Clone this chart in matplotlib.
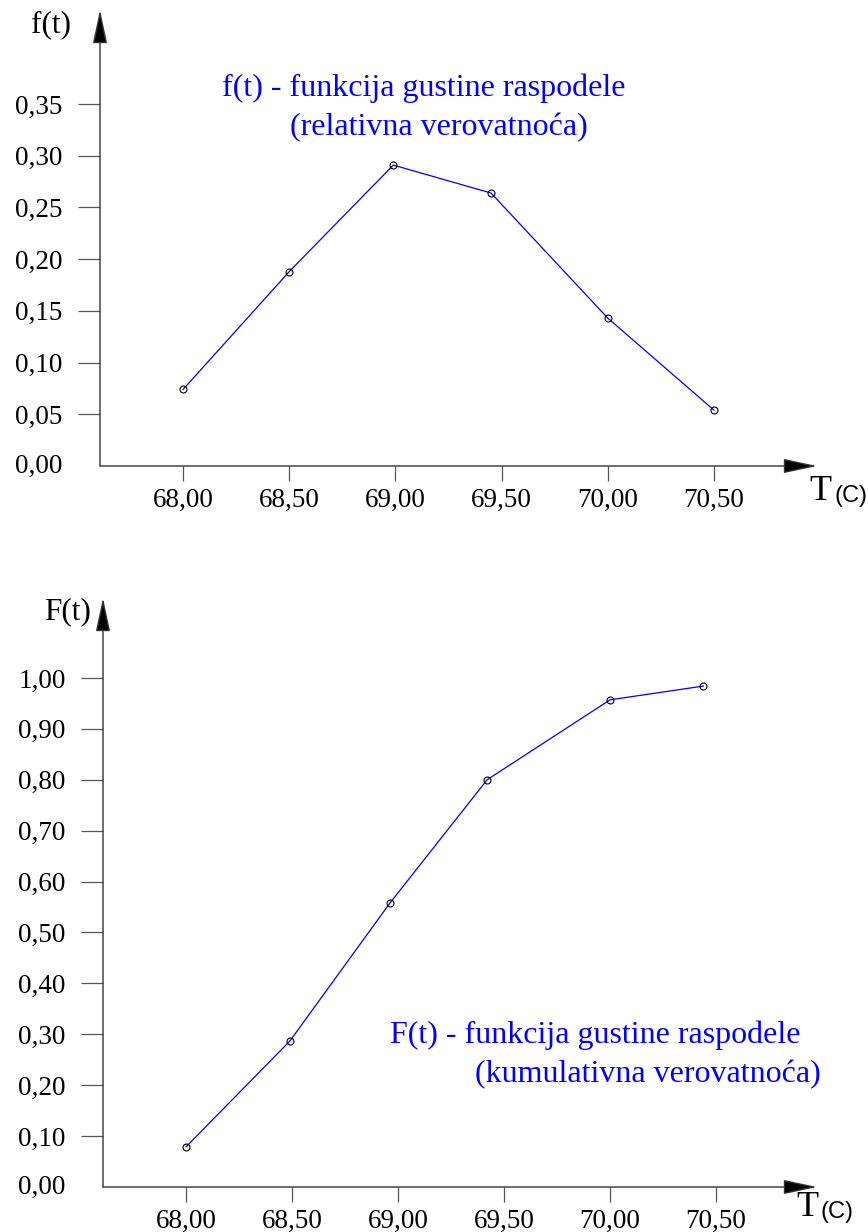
import matplotlib
matplotlib.use("Agg")
import matplotlib.pyplot as plt

# ---- data ----
t_top = [68.00, 68.50, 68.99, 69.45, 70.00, 70.50]
f_vals = [0.074, 0.188, 0.291, 0.264, 0.143, 0.054]
t_bot = [68.00, 68.49, 68.96, 69.42, 70.00, 70.44]
F_vals = [0.079, 0.287, 0.557, 0.800, 0.957, 0.984]

x_ticks = [68.0, 68.5, 69.0, 69.5, 70.0, 70.5]
x_ticklabels = ["68,00", "68,50", "69,00", "69,50", "70,00", "70,50"]
y_ticks_top = [0.05, 0.10, 0.15, 0.20, 0.25, 0.30, 0.35]
y_ticklabels_top = ["0,05", "0,10", "0,15", "0,20", "0,25", "0,30", "0,35"]
y_ticks_bot = [0.1, 0.2, 0.3, 0.4, 0.5, 0.6, 0.7, 0.8, 0.9, 1.0]
y_ticklabels_bot = ["0,10", "0,20", "0,30", "0,40", "0,50", "0,60", "0,70", "0,80", "0,90", "1,00"]

W, H = 868, 1232
fig = plt.figure(figsize=(W / 100, H / 100), dpi=100)
SERIF = "Liberation Serif"
FS = 19.5     # tick labels
FA = 23.0     # annotations
FL = 22.5     # axis labels

def px_axes(x0, y_bottom, x1, y_top):
    return fig.add_axes([x0 / W, 1 - y_bottom / H, (x1 - x0) / W, (y_bottom - y_top) / H])

def ftext(x, y, s, **kw):
    fig.text(x / W, 1 - y / H, s, **kw)

def style(ax, yticks, ylabels, zero_y):
    for sp in ax.spines.values():
        sp.set_visible(False)
    ax.set_xticks(x_ticks)
    ax.set_xticklabels(x_ticklabels, fontfamily=SERIF, fontsize=FS)
    ax.set_yticks(yticks)
    ax.set_yticklabels(ylabels, fontfamily=SERIF, fontsize=FS)
    ax.tick_params(axis="y", direction="out", length=16, width=0.9, color="#555555", pad=11)
    ax.tick_params(axis="x", direction="out", length=11, width=0.9, color="#555555", pad=5)
    ap = dict(arrowstyle="-|>,head_length=2.1,head_width=0.45", color="#333333",
              fc="black", lw=1.0, shrinkA=0, shrinkB=0)
    ax.annotate("", xy=(0, 1), xytext=(0, 0), xycoords="axes fraction",
                arrowprops=ap, annotation_clip=False)
    ax.annotate("", xy=(1, 0), xytext=(0, 0), xycoords="axes fraction",
                arrowprops=ap, annotation_clip=False)
    ax.text(-0.053, 0, zero_y, transform=ax.get_yaxis_transform(), ha="right",
            va="center", fontfamily=SERIF, fontsize=FS)

# ---- top panel ----
ax1 = px_axes(100, 466, 817, 10)
ax1.set_xlim(67.609, 70.985)
ax1.set_ylim(0, 0.441)
ax1.plot(t_top, f_vals, color="blue", lw=0.9, marker="o", ms=5, mfc="none",
         mec="black", mew=0.8)
style(ax1, y_ticks_top, y_ticklabels_top, "0,00")
ftext(71, 25, "f(t)", fontfamily=SERIF, fontsize=FL, va="center", ha="right")
ftext(222, 88, "f(t) - funkcija gustine raspodele", fontfamily=SERIF, fontsize=FA,
      color="blue", va="center")
ftext(290, 128, "(relativna verovatnoća)", fontfamily=SERIF, fontsize=FA,
      color="blue", va="center")
ftext(809, 492, "T", fontfamily=SERIF, fontsize=26, va="center")
ftext(834, 496, "(C)", fontfamily="Liberation Sans", fontsize=17, va="center")

# ---- bottom panel ----
ax2 = px_axes(103, 1187, 817, 598)
ax2.set_xlim(67.608, 70.976)
ax2.set_ylim(0, 1.157)
ax2.plot(t_bot, F_vals, color="blue", lw=0.9, marker="o", ms=5, mfc="none",
         mec="black", mew=0.8)
style(ax2, y_ticks_bot, y_ticklabels_bot, "0,00")
ftext(91, 612, "F(t)", fontfamily=SERIF, fontsize=FL, va="center", ha="right")
ftext(390, 1035, "F(t) - funkcija gustine raspodele", fontfamily=SERIF, fontsize=FA,
      color="blue", va="center")
ftext(475, 1075, "(kumulativna verovatnoća)", fontfamily=SERIF, fontsize=FA,
      color="blue", va="center")
ftext(796, 1208, "T", fontfamily=SERIF, fontsize=26, va="center")
ftext(821, 1212, "(C)", fontfamily="Liberation Sans", fontsize=17, va="center")

fig.savefig("out.png", dpi=100)
